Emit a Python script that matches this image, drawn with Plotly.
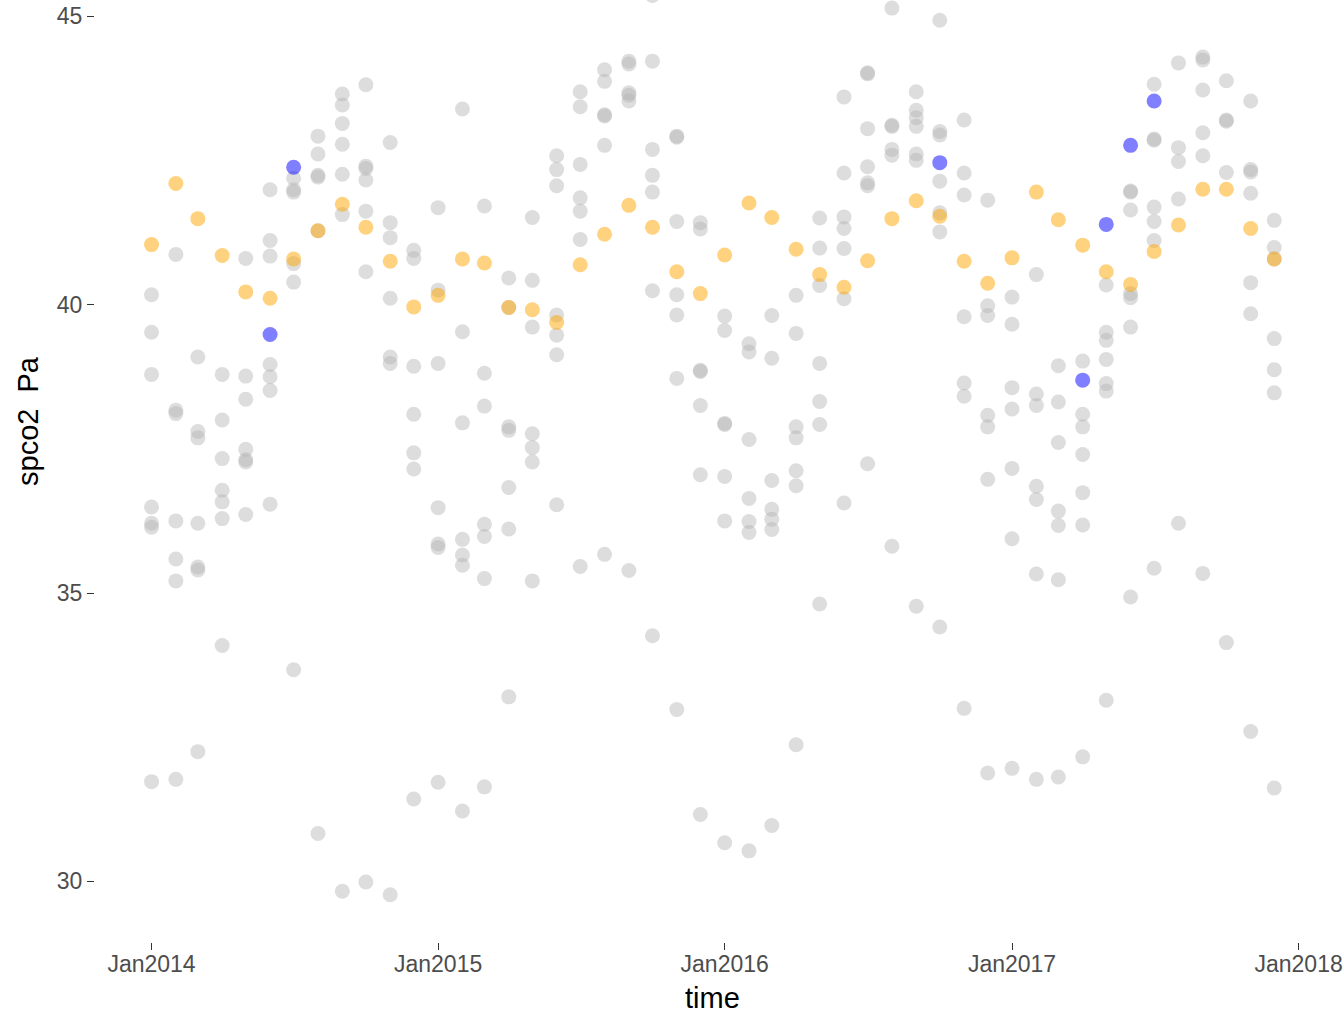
import pandas as pd
import plotly.graph_objects as go

# ---- data ----
months = pd.date_range("2014-01-01", periods=48, freq="MS")

grey_2014 = [
    [40.17, 39.52, 38.79, 36.49, 36.21, 36.14, 31.73],
    [40.87, 38.17, 38.11, 36.25, 35.59, 35.21, 31.77],
    [39.09, 37.80, 37.69, 36.21, 35.45, 35.40, 32.25],
    [38.79, 38.00, 37.33, 36.78, 36.58, 36.29, 34.09],
    [40.80, 38.76, 38.36, 37.49, 37.31, 37.27, 36.36],
    [41.99, 41.11, 40.84, 38.96, 38.75, 38.51, 36.54],
    [42.19, 41.99, 41.95, 40.71, 40.39, 33.67],
    [42.92, 42.61, 42.24, 42.21, 41.28, 30.83],
    [43.65, 43.46, 43.14, 42.78, 42.26, 41.56, 29.83],
    [43.81, 42.40, 42.36, 42.16, 41.62, 40.57, 29.99],
    [42.81, 41.42, 41.16, 40.11, 39.09, 38.98, 29.77],
    [40.94, 40.80, 38.93, 38.10, 37.43, 37.15, 31.43],
]
grey_2015 = [
    [41.68, 40.25, 38.98, 36.48, 35.85, 35.79, 31.72],
    [43.39, 39.53, 37.95, 35.93, 35.66, 35.48, 31.22],
    [41.71, 38.81, 38.24, 36.19, 35.98, 35.25, 31.64],
    [40.46, 39.95, 37.88, 37.82, 36.83, 36.11, 33.20],
    [41.51, 40.42, 39.61, 37.76, 37.52, 37.27, 35.21],
    [42.58, 42.34, 42.06, 39.82, 39.47, 39.13, 36.53],
    [43.69, 43.43, 42.43, 41.85, 41.62, 41.13, 35.46],
    [44.07, 43.87, 43.29, 43.27, 42.76, 35.67],
    [44.22, 44.17, 43.67, 43.63, 43.53, 35.39],
    [45.36, 44.22, 42.69, 42.24, 41.95, 40.24, 34.26],
    [42.92, 42.90, 41.44, 40.17, 39.82, 38.72, 32.98],
    [41.42, 41.31, 38.86, 38.84, 38.25, 37.05, 31.16],
]
grey_2016 = [
    [39.80, 39.55, 37.94, 37.92, 37.02, 36.25, 30.67],
    [39.32, 39.18, 37.66, 36.64, 36.24, 36.05, 30.53],
    [39.81, 39.07, 36.95, 36.45, 36.28, 36.10, 30.97],
    [40.16, 39.50, 37.88, 37.69, 37.12, 36.86, 32.37],
    [41.50, 40.98, 40.33, 38.98, 38.32, 37.92, 34.81],
    [43.60, 42.28, 41.52, 41.32, 40.97, 40.10, 36.56],
    [44.02, 44.00, 43.05, 42.39, 42.11, 42.06, 37.24],
    [45.14, 43.11, 43.09, 42.69, 42.59, 35.81],
    [43.69, 43.37, 43.24, 43.09, 42.61, 42.50, 34.77],
    [44.93, 43.00, 42.94, 42.14, 41.59, 41.26, 34.41],
    [43.20, 42.28, 41.90, 39.79, 38.64, 38.41, 33.00],
    [41.81, 39.98, 39.81, 38.08, 37.88, 36.97, 31.88],
]
grey_2017 = [
    [40.13, 39.66, 38.56, 38.19, 37.16, 35.94, 31.96],
    [40.52, 38.45, 38.25, 36.85, 36.62, 35.33, 31.77],
    [38.94, 38.31, 37.61, 36.42, 36.17, 35.23, 31.81],
    [39.02, 38.10, 37.88, 37.40, 36.74, 36.18, 32.16],
    [40.34, 39.52, 39.38, 39.05, 38.63, 38.50, 33.14],
    [41.97, 41.95, 41.64, 40.19, 40.12, 39.61, 34.93],
    [43.82, 42.87, 42.85, 41.69, 41.44, 41.11, 35.43],
    [44.19, 42.72, 42.48, 41.83, 36.21],
    [44.29, 44.24, 43.72, 42.98, 42.58, 35.34],
    [43.88, 43.20, 43.18, 42.29, 34.14],
    [43.53, 42.34, 42.30, 41.93, 40.38, 39.84, 32.60],
    [41.46, 40.99, 40.79, 39.41, 38.87, 38.47, 31.62],
]

orange_values = [
    41.04, 42.10, 41.49, 40.85, 40.22, 40.11, 40.79, 41.28, 41.74, 41.34, 40.75, 39.96,
    40.16, 40.79, 40.72, 39.95, 39.91, 39.69, 40.69, 41.22, 41.72, 41.34, 40.57, 40.19,
    40.86, 41.76, 41.51, 40.96, 40.52, 40.30, 40.76, 41.49, 41.80, 41.53, 40.75, 40.37,
    40.81, 41.95, 41.47, 41.03, 40.57, 40.35, 40.92, 41.38, 42.00, 42.00, 41.32, 40.79,
]

blue_dates = ["2014-06-01", "2014-07-01", "2016-10-01", "2017-04-01",
              "2017-05-01", "2017-06-01", "2017-07-01"]
blue_values = [39.48, 42.38, 42.46, 38.69, 41.39, 42.76, 43.53]

tick_dates = ["2014-01-01", "2015-01-01", "2016-01-01", "2017-01-01", "2018-01-01"]
tick_labels = ["Jan2014", "Jan2015", "Jan2016", "Jan2017", "Jan2018"]
y_ticks = [30, 35, 40, 45]

# ---- build ----
grey_all = grey_2014 + grey_2015 + grey_2016 + grey_2017
gx, gy = [], []
for d, vals in zip(months, grey_all):
    for v in vals:
        gx.append(d)
        gy.append(v)

FONT = "Liberation Sans, Arial, Helvetica, sans-serif"
MSIZE = 15
W, H = 1344, 1011
ML, MR, MT, MB = 95, 14, 0, 69
PH = H - MT - MB

fig = go.Figure()
fig.add_trace(go.Scatter(x=gx, y=gy, mode="markers",
                         marker=dict(size=MSIZE, color="rgba(179,179,179,0.45)", line=dict(width=0)),
                         showlegend=False, hoverinfo="x+y"))
fig.add_trace(go.Scatter(x=months, y=orange_values, mode="markers",
                         marker=dict(size=MSIZE, color="rgba(255,165,0,0.5)", line=dict(width=0)),
                         showlegend=False))
fig.add_trace(go.Scatter(x=pd.to_datetime(blue_dates), y=blue_values, mode="markers",
                         marker=dict(size=MSIZE, color="rgba(0,0,255,0.5)", line=dict(width=0)),
                         showlegend=False))

fig.update_layout(
    width=W, height=H,
    margin=dict(l=ML, r=MR, t=MT, b=MB),
    plot_bgcolor="white", paper_bgcolor="white",
    font=dict(family=FONT),
    xaxis=dict(
        type="date", range=["2013-10-21", "2018-02-10"],
        showgrid=False, zeroline=False, showline=False,
        ticks="outside", ticklen=7, tickwidth=1.1, tickcolor="#333333",
        tickvals=pd.to_datetime(tick_dates), ticktext=tick_labels,
        tickfont=dict(size=23, color="#4D4D4D", family=FONT),
        ticklabelstandoff=-6,
    ),
    yaxis=dict(
        range=[28.95, 45.28],
        showgrid=False, zeroline=False, showline=False,
        ticks="outside", ticklen=7, tickwidth=1.1, tickcolor="#333333",
        tickvals=y_ticks, ticktext=[str(v) for v in y_ticks],
        tickfont=dict(size=23, color="#4D4D4D", family=FONT),
    ),
    annotations=[
        dict(text="time", xref="paper", yref="paper", x=0.5, y=-(998 - PH) / PH,
             xanchor="center", yanchor="middle", showarrow=False,
             font=dict(size=29, color="black", family=FONT)),
        dict(text="spco2\u00a0\u00a0Pa", xref="paper", yref="paper", x=0, xshift=28 - ML,
             y=1 - 421 / PH, xanchor="center", yanchor="middle", textangle=-90,
             showarrow=False, font=dict(size=29, color="black", family=FONT)),
    ],
)

fig.write_html("out.html", config={"displayModeBar": False},
               post_script="document.body.style.margin='0';document.body.style.overflow='hidden';")
